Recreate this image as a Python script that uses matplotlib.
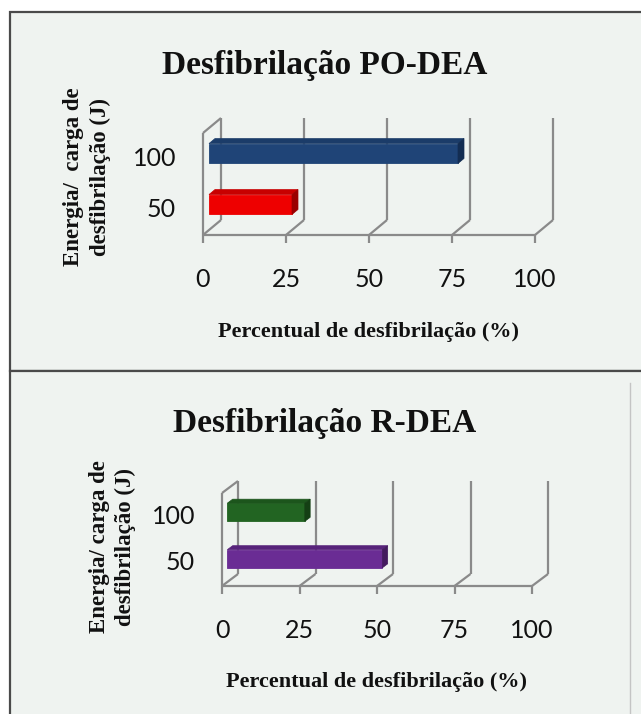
import matplotlib
matplotlib.use("Agg")
import matplotlib.pyplot as plt
from matplotlib.patches import Polygon, Rectangle
from matplotlib.lines import Line2D

# ---------------- data ----------------
titles = ["Desfibrilação PO-DEA", "Desfibrilação R-DEA"]
categories = ["50", "100"]
po_values = [25, 75]
r_values = [50, 25]
xticks = [0, 25, 50, 75, 100]
xlabel = "Percentual de desfibrilação (%)"
ylabel_lines = [["Energia/  carga de", "desfibrilação (J)"],
                ["Energia/ carga de", "desfibrilação (J)"]]

# face colours (front, top, side) per category
po_colors = [("#EE0000", "#C80000", "#9A0000"), ("#1F4477", "#1B3C69", "#132D52")]
r_colors = [("#6A2C94", "#57237A", "#431A5E"), ("#226422", "#1C551C", "#143F14")]

W, H, DPI = 641, 714, 100
BG = "#EFF3F0"
GRID = "#8A8A8A"
SERIF = "Liberation Serif"
SANS = "Lato"

fig = plt.figure(figsize=(W / DPI, H / DPI), dpi=DPI)
fig.patch.set_facecolor("white")


def fx(x):
    return x / W


def fy(y):
    return 1 - y / H


# panel backgrounds / borders
fig.add_artist(Rectangle((fx(10), fy(371)), fx(660) - fx(10), fy(12) - fy(371),
                         transform=fig.transFigure, facecolor=BG,
                         edgecolor="#4A4A4A", linewidth=1.6, zorder=0))
fig.add_artist(Rectangle((fx(10), fy(730)), fx(660) - fx(10), fy(371) - fy(730),
                         transform=fig.transFigure, facecolor=BG,
                         edgecolor="#4A4A4A", linewidth=1.6, zorder=0))
fig.add_artist(Line2D([fx(630), fx(630)], [fy(383), fy(714)], transform=fig.transFigure,
                      color="#C4C4C4", linewidth=1.0, zorder=1))

panels = [
    dict(box=(203, 535, 235, 133), depth=(18, 15), values=po_values, colors=po_colors,
         title_y=74, xlabel_y=337, ylab_x=(74, 100), ylab_y=177),
    dict(box=(222, 532, 586, 493), depth=(16, 12), values=r_values, colors=r_colors,
         title_y=432, xlabel_y=687, ylab_x=(99, 125), ylab_y=547),
]

for p, title, ylines in zip(panels, titles, ylabel_lines):
    x0, x1, yb, yt = p["box"]
    ax = fig.add_axes([fx(x0), fy(yb), fx(x1) - fx(x0), fy(yt) - fy(yb)])
    ax.set_xlim(0, 100)
    ax.set_ylim(-0.5, 1.5)
    ax.axis("off")
    ax.patch.set_visible(False)

    ppx = (x1 - x0) / 100.0          # pixels per x unit
    ppy = (yb - yt) / 2.0            # pixels per y unit
    ddx = p["depth"][0] / ppx
    ddy = p["depth"][1] / ppy
    tick_len = 8 / ppy

    kw = dict(color=GRID, linewidth=1.6, solid_capstyle="butt", clip_on=False)
    # floor front edge
    ax.plot([0, 100], [-0.5, -0.5], zorder=2, **kw)
    # left wall
    ax.plot([0, 0], [-0.5, 1.5], zorder=2, **kw)
    ax.plot([0, ddx], [1.5, 1.5 + ddy], zorder=2, **kw)
    for t in xticks:
        ax.plot([t, t], [-0.5, -0.5 - tick_len], zorder=2, **kw)
        ax.plot([t, t + ddx], [-0.5, -0.5 + ddy], zorder=2, **kw)
        ax.plot([t + ddx, t + ddx], [-0.5 + ddy, 1.5 + ddy], zorder=2, **kw)
        ax.annotate(str(t), (t, -0.5), xytext=(0, -45 * 72 / DPI), textcoords="offset points",
                    ha="center", va="center", fontsize=18, family=SANS, color="#111111",
                    annotation_clip=False)

    # bars
    h = 0.39
    f = 1 / 3.0
    for i, (v, cols) in enumerate(zip(p["values"], p["colors"])):
        front, top, side = cols
        y = i + f * ddy
        left = f * ddx
        ax.barh([y], [v], left=left, height=h, color=front, edgecolor=front,
                linewidth=0.6, zorder=4)
        xa, xb = left, left + v
        ya, yb2 = y - h / 2, y + h / 2
        gx, gy = f * ddx, f * ddy
        ax.add_patch(Polygon([(xa, yb2), (xb, yb2), (xb + gx, yb2 + gy), (xa + gx, yb2 + gy)],
                             closed=True, facecolor=top, edgecolor=top, linewidth=0.5,
                             zorder=4, clip_on=False))
        ax.add_patch(Polygon([(xb, ya), (xb, yb2), (xb + gx, yb2 + gy), (xb + gx, ya + gy)],
                             closed=True, facecolor=side, edgecolor=side, linewidth=0.5,
                             zorder=4, clip_on=False))
        ax.annotate(categories[i], (0, i), xytext=(-27 * 72 / DPI, 0), textcoords="offset points",
                    ha="right", va="center", fontsize=18, family=SANS, color="#111111",
                    annotation_clip=False)

    cx = (x0 + x1) / 2
    fig.text(fx(325), fy(p["title_y"]), title, ha="center", va="baseline",
             fontsize=24, fontweight="bold", family=SERIF, color="#111111")
    fig.text(fx(cx), fy(p["xlabel_y"]), xlabel, ha="center", va="baseline",
             fontsize=16, fontweight="bold", family=SERIF, color="#111111")
    for lx, line in zip(p["ylab_x"], ylines):
        fig.text(fx(lx), fy(p["ylab_y"]), line, ha="center", va="center", rotation=90,
                 fontsize=16.5, fontweight="bold", family=SERIF, color="#111111")

fig.savefig("out.png", dpi=DPI, facecolor="white")
